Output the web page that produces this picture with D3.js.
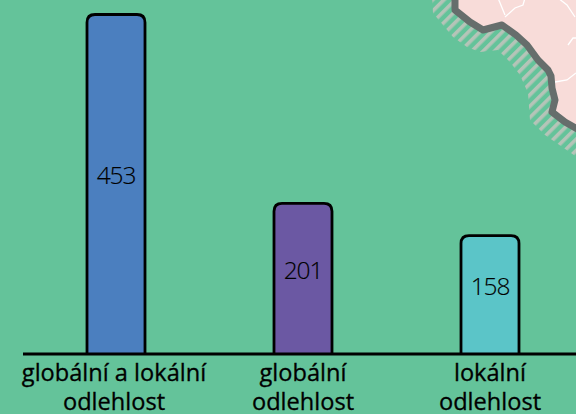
<!DOCTYPE html>
<html><head><meta charset="utf-8">
<script src="https://cdn.jsdelivr.net/npm/d3@7/dist/d3.min.js"></script>
<style>html,body{margin:0;padding:0;background:#64c39a;overflow:hidden}svg{display:block}</style>
</head><body><svg id="c" width="576" height="414"></svg>
<script>
const categories=[["globální a lokální","odlehlost"],["globální","odlehlost"],["lokální","odlehlost"]];
const values=[453,201,158];
const colors=["#4b7fbf","#6b58a3","#5bc5c8"];
const coast=[[455,-5],[455,10],[470,22],[483,30],[502,25],[516,35],[527,45],[538,60],[548,70],[551,76],[552,88],[555,100],[552,112],[565,122],[581,131]];
const hatchEdge=[[432,-5],[433,13],[453,37],[467,47],[480,52],[498,50],[510,62],[520,75],[528,93],[530,120],[545,135],[581,160]];
const borders=[[[498,-2],[505,15]],[[525,-2],[523,5],[515,8],[505,17]],[[558,-2],[567,5],[575,17]],[[568,45],[573,38],[576,38]],[[555,82],[567,80],[576,73]]];

const svg=d3.select("#c");
const defs=svg.append("defs");
const pat=defs.append("pattern").attr("id","h").attr("patternUnits","userSpaceOnUse").attr("width",8).attr("height",8).attr("patternTransform","rotate(45)");
pat.append("rect").attr("width",8).attr("height",8).attr("fill","#64c39a");
pat.append("rect").attr("width",3.6).attr("height",8).attr("fill","#b5c4b8");

const straight=d3.line();
svg.append("path").attr("d",straight(hatchEdge.concat(coast.slice().reverse()))).attr("fill","url(#h)");
svg.append("path").attr("d",straight(coast.concat([[581,-5]]))).attr("fill","#f8dcd9");
svg.selectAll(".b").data(borders).join("path").attr("d",straight).attr("fill","none").attr("stroke","#fff").attr("stroke-width",1.3);
svg.append("path").attr("d",straight(coast)).attr("fill","none").attr("stroke","#666e6c").attr("stroke-width",7).attr("stroke-linejoin","round");

const x=d3.scalePoint().domain(d3.range(3)).range([116,490]);
const y=d3.scaleLinear().domain([0,453]).range([354,14.5]);
const bw=58;
svg.selectAll(".bar").data(values).join("path").attr("class","bar")
 .attr("d",(v,i)=>{const l=x(i)-bw/2,r=x(i)+bw/2,t=y(v),b=y(0),q=8;
   return `M${l},${b}V${t+q}Q${l},${t} ${l+q},${t}H${r-q}Q${r},${t} ${r},${t+q}V${b}`;})
 .attr("fill",(d,i)=>colors[i]).attr("stroke","#000").attr("stroke-width",2.8);
svg.selectAll(".val").data(values).join("text").attr("class","val")
 .attr("x",(v,i)=>x(i)).attr("y",v=>(y(v)+y(0))/2)
 .attr("text-anchor","middle").attr("font-family","'Open Sans'").attr("font-weight",300).attr("font-size",24.5).attr("letter-spacing",-1.1)
 .attr("fill","#000").attr("stroke","#000").attr("stroke-width",0.15).text(d=>d);
svg.append("line").attr("x1",23).attr("x2",576).attr("y1",354).attr("y2",354).attr("stroke","#000").attr("stroke-width",2.8);
const g=svg.selectAll(".lab").data(categories).join("text").attr("class","lab")
 .attr("text-anchor","middle").attr("font-family","'Open Sans'").attr("font-size",23.6).attr("fill","#000").attr("stroke","#000").attr("stroke-width",0.3);
g.selectAll("tspan").data((d,i)=>d.map(t=>({t,i}))).join("tspan")
 .attr("x",d=>x(d.i)-(d.i==0?2:0)).attr("y",(d,j)=>381+j*29).text(d=>d.t);
</script></body></html>
